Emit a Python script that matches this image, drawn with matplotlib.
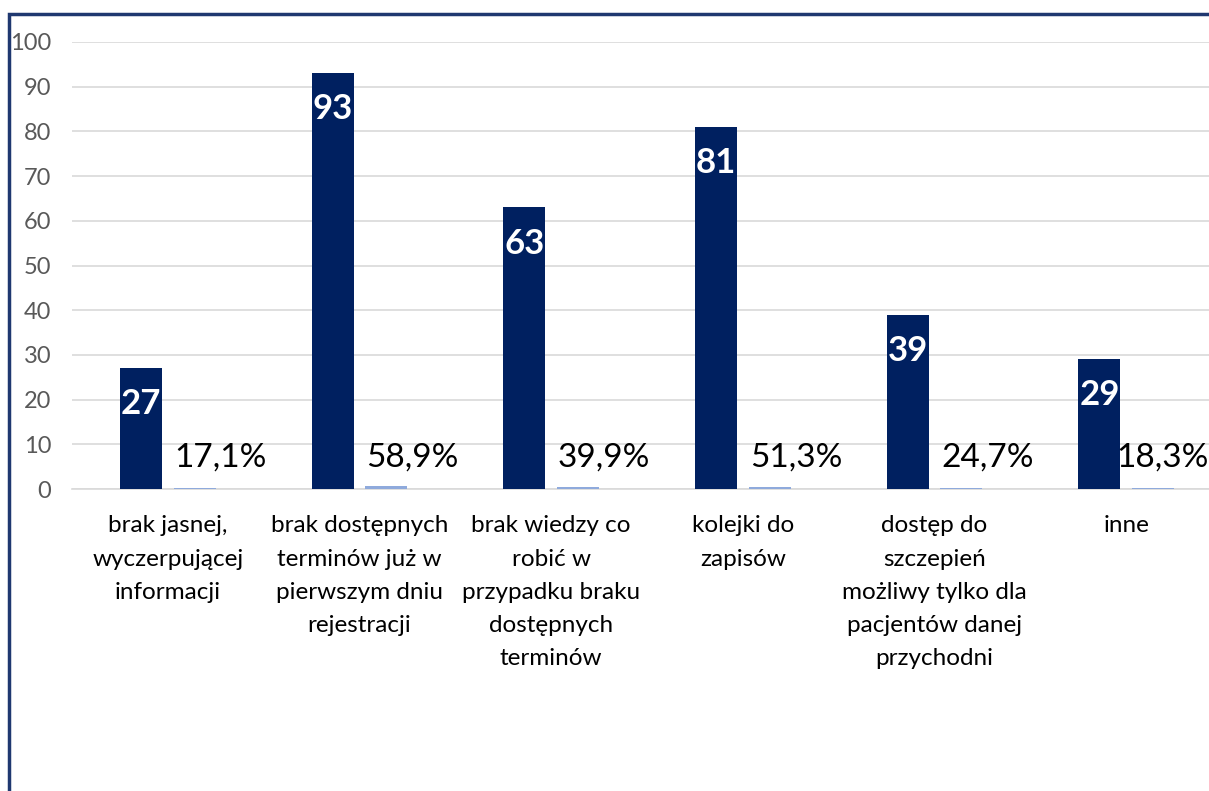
import numpy as np
import matplotlib
matplotlib.use("Agg")
import matplotlib.pyplot as plt
from matplotlib.patches import Rectangle

plt.rcParams['font.family'] = ['Lato', 'DejaVu Sans']

# dane
categories = ["brak jasnej,\nwyczerpującej\ninformacji",
              "brak dostępnych\nterminów już w\npierwszym dniu\nrejestracji",
              "brak wiedzy co\nrobić w\nprzypadku braku\ndostępnych\nterminów",
              "kolejki do\nzapisów",
              "dostęp do\nszczepień\nmożliwy tylko dla\npacjentów danej\nprzychodni",
              "inne"]
counts = [27, 93, 63, 81, 39, 29]
shares = [0.171, 0.589, 0.399, 0.513, 0.247, 0.183]

navy = '#002060'
light = '#8faadc'
grid_col = '#d9d9d9'

fig = plt.figure(figsize=(12.09, 7.91), dpi=100)
ax = fig.add_axes([72/1209, (791-489)/791, 1150/1209, 447/791])

x = np.arange(len(categories))
w = 0.22
off = 0.14

b1 = ax.bar(x - off, counts, w, color=navy, zorder=3)
b2 = ax.bar(x + off, shares, w, color=light, zorder=3)

# etykiety wartosci
for xi, c in zip(x, counts):
    ax.annotate(str(c), (xi - off, c), xytext=(0, -26), textcoords='offset points',
                ha='center', va='center', color='white', fontsize=25,
                fontweight='bold', zorder=4)

for i, (xi, s) in enumerate(zip(x, shares)):
    txt = f"{s*100:.1f}".replace('.', ',') + '%'
    if i == len(x) - 1:
        ax.annotate(txt, (xi - off + w/2, 0), xytext=(-3, 23), textcoords='offset points',
                    ha='left', va='center', fontsize=24, color='black', zorder=4)
    else:
        ax.annotate(txt, (xi + 0.277, 0), xytext=(0, 23), textcoords='offset points',
                    ha='center', va='center', fontsize=24, color='black', zorder=4)

ax.set_xlim(-0.5, len(x) - 0.5)
ax.set_ylim(0, 100)
ax.set_yticks(range(0, 101, 10))
ax.yaxis.grid(True, color=grid_col, linewidth=1.2, zorder=0)
ax.set_axisbelow(True)

ax.set_xticks(x)
ax.set_xticklabels(categories, fontsize=17.5, linespacing=1.72, color='black')
ax.tick_params(axis='x', length=0, pad=19)
ax.tick_params(axis='y', length=0, pad=15, labelsize=17, labelcolor='#595959')

for s in ['top', 'right', 'left']:
    ax.spines[s].set_visible(False)
ax.spines['bottom'].set_color(grid_col)
ax.spines['bottom'].set_linewidth(1.2)

# ramka wykresu
fig.patches.append(Rectangle((9/1209, -0.1), 1.2, 0.1 + (791-14)/791,
                             transform=fig.transFigure, fill=False,
                             edgecolor='#1f3870', linewidth=2.5))

fig.savefig('out.png', dpi=100)
